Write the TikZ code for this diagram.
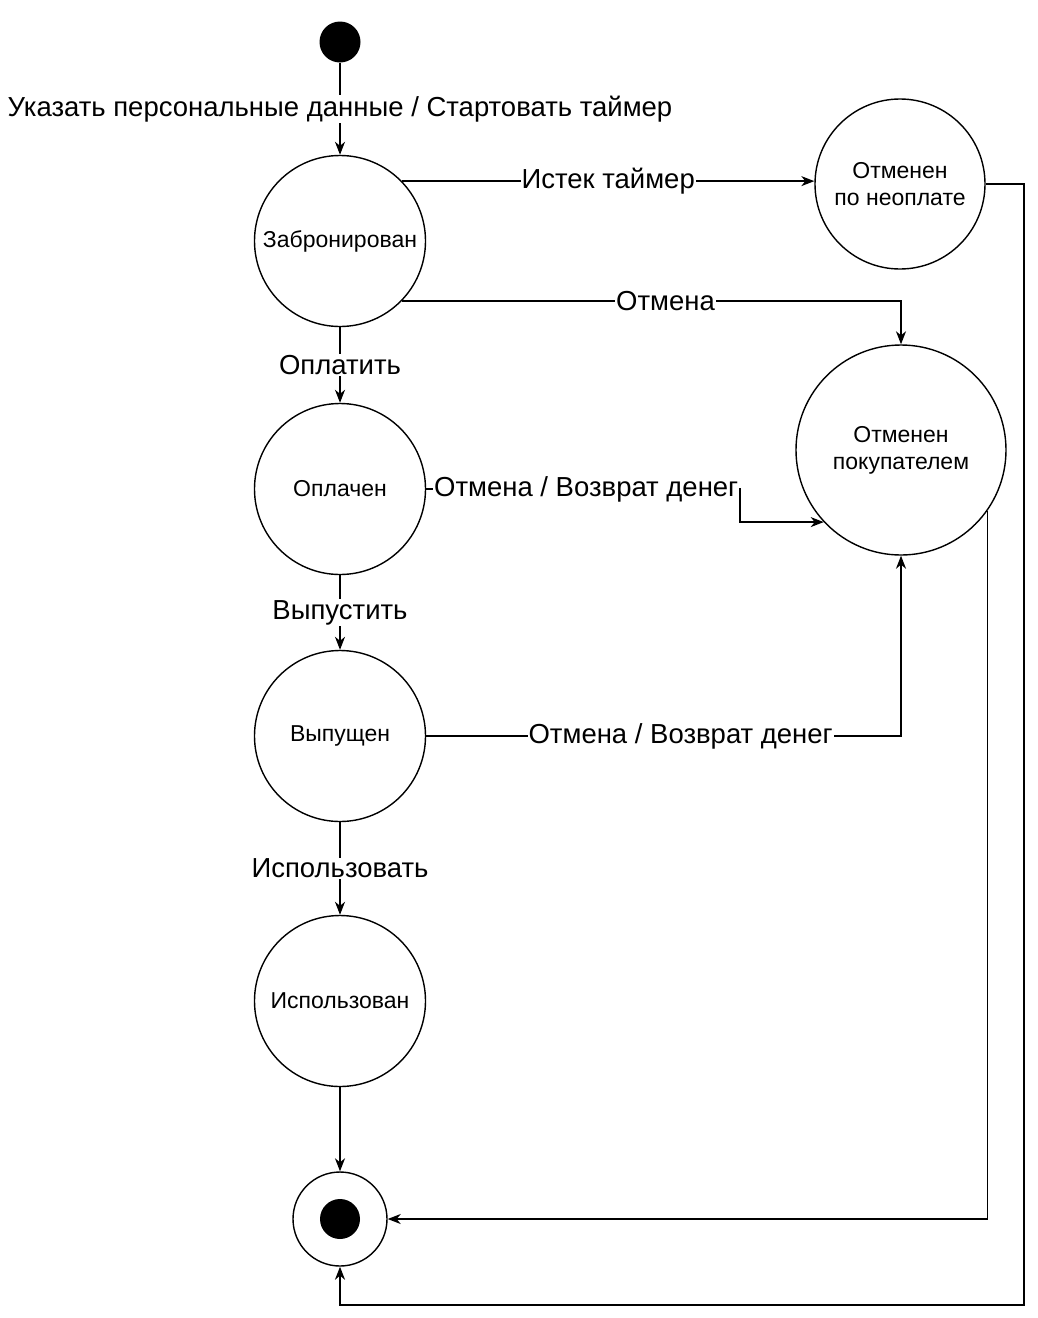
\documentclass[tikz,border=0pt]{standalone}
\usepackage{fontspec}
\setmainfont{Liberation Sans}
\usetikzlibrary{arrows.meta,calc}
\begin{document}
\begin{tikzpicture}[x=1pt,y=-1pt,
  every path/.style={line width=1.4pt},
  state/.style={draw,circle,line width=1.4pt,inner sep=0pt,align=center,font=\fontsize{23}{27}\selectfont},
  lbl/.style={fill=white,inner sep=1pt,font=\fontsize{27.5}{31}\selectfont},
  arr/.style={-{Stealth[length=13pt,width=10pt,inset=4pt]}}]
\path[use as bounding box] (0,0) rectangle (1038,1318);
\node[circle,fill=black,minimum size=41pt,inner sep=0pt] (init) at (340,42) {};
\node[state,minimum size=171pt] (zab) at (340,241) {Забронирован};
\node[state,minimum size=170pt] (neo) at (900,184) {Отменен\\по неоплате};
\node[state,minimum size=210pt] (pok) at (901,450) {Отменен\\покупателем};
\node[state,minimum size=171pt] (opl) at (340,489) {Оплачен};
\node[state,minimum size=171pt] (vyp) at (340,736) {Выпущен};
\node[state,minimum size=171pt] (isp) at (340,1001) {Использован};
\node[circle,draw,line width=1.4pt,minimum size=94pt,inner sep=0pt] (fin) at (340,1219) {};
\node[circle,fill=black,minimum size=40pt,inner sep=0pt] (fininner) at (fin.center) {};
\coordinate (c1) at (740,489);
\coordinate (c3) at (1024,1305);
\draw[arr] (init) -- node[lbl,pos=0.5] {Указать персональные данные / Стартовать таймер} (zab);
\draw[arr] (zab.44) -- node[lbl,pos=0.5] {Истек таймер} (zab.44 -| neo.west);
\draw[arr] (zab.-44) -| node[lbl,pos=0.264] {Отмена} (pok.north);
\draw[arr] (zab) -- node[lbl] {Оплатить} (opl);
\draw[arr] (opl.east) -- node[lbl,pos=0.51] {Отмена / Возврат денег} (c1) |- (pok.223);
\draw[arr] (opl) -- node[lbl] {Выпустить} (vyp);
\draw[arr] (vyp.east) -| node[lbl,pos=0.268] {Отмена / Возврат денег} (pok.south);
\draw[arr] (vyp) -- node[lbl] {Использовать} (isp);
\draw[arr] (isp) -- (fin);
\draw[arr] (pok.-35) |- (fin.east);
\draw[arr] (neo.east) -| (c3) -| (fin.south);
\end{tikzpicture}
\end{document}
